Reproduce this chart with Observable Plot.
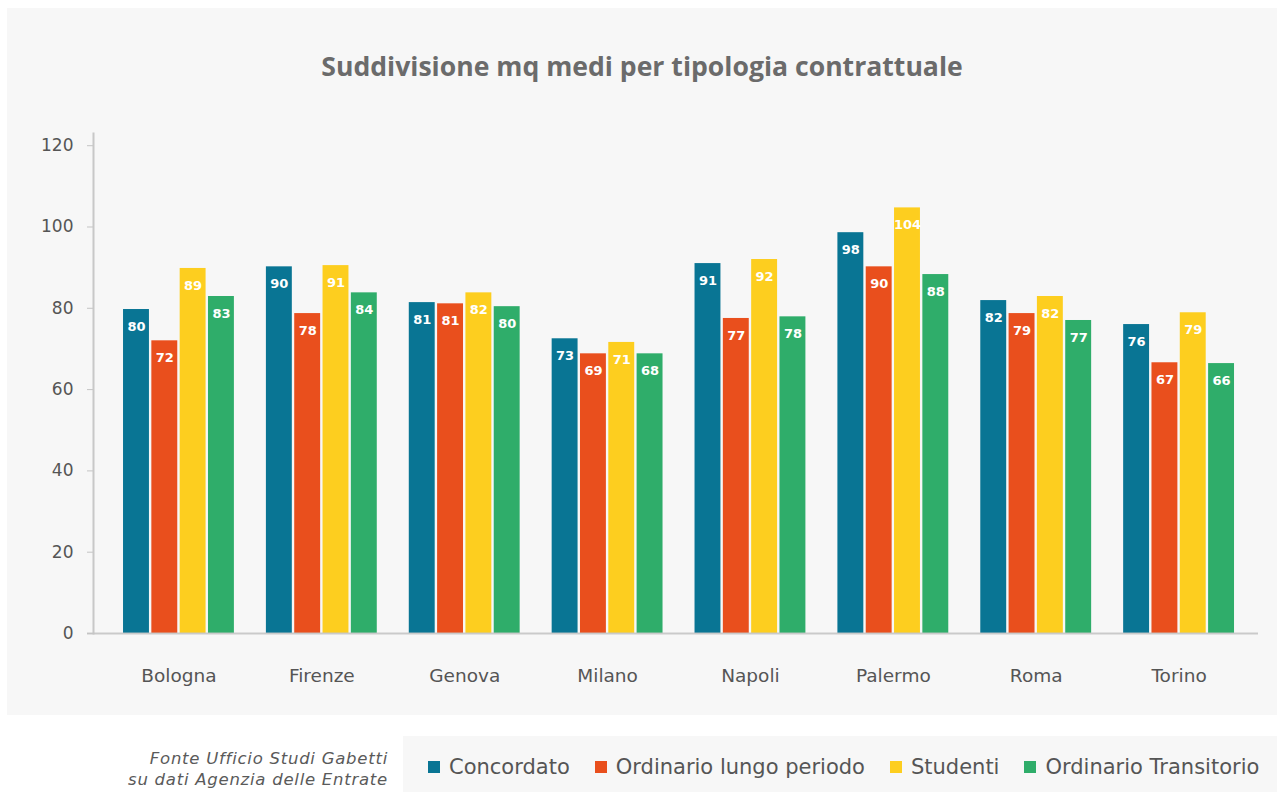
<!DOCTYPE html>
<html>
<head>
<meta charset="utf-8">
<script src="https://cdn.jsdelivr.net/npm/d3@7"></script>
<script src="https://cdn.jsdelivr.net/npm/@observablehq/plot@0.6"></script>
<style>
  html, body { margin: 0; padding: 0; background: #ffffff; width: 1277px; height: 792px; overflow: hidden; }
  body { position: relative; font-family: "DejaVu Sans", "Open Sans", sans-serif; }
  #panel { position: absolute; left: 7px; top: 8px; width: 1270px; height: 707px; background: #f7f7f7; }
  #title { position: absolute; left: 0; top: 42px; width: 1270px; text-align: center; font-family: "Open Sans", sans-serif; font-size: 26.6px; line-height: 32px; font-weight: 700; color: #6b6b6b; }
  #chart { position: absolute; left: 0; top: 92px; }
  #caption { position: absolute; right: calc(1277px - 388px); top: 748px; text-align: right; font-style: italic; font-size: 16.5px; letter-spacing: 0.75px; line-height: 21px; color: #5a5a5a; }
  #legend { position: absolute; left: 403px; top: 736px; width: 874px; height: 56px; background: #f7f7f7; display: flex; align-items: center; padding-top: 5px; box-sizing: border-box; }
  .item { display: flex; align-items: center; margin-left: 25px; font-size: 21px; color: #555; white-space: nowrap; }
  .sw { width: 12px; height: 12px; margin-right: 9px; }
</style>
</head>
<body>
<div id="panel">
  <div id="title"></div>
  <div id="chart"></div>
</div>
<div id="caption"></div>
<div id="legend"></div>
<script>
const titleText = "Suddivisione mq medi per tipologia contrattuale";
const captionLines = ["Fonte Ufficio Studi Gabetti", "su dati Agenzia delle Entrate"];
const cities = ["Bologna", "Firenze", "Genova", "Milano", "Napoli", "Palermo", "Roma", "Torino"];
const seriesNames = ["Concordato", "Ordinario lungo periodo", "Studenti", "Ordinario Transitorio"];
const seriesColors = ["#097594", "#e94f1d", "#fdce1f", "#2fad6a"];
const concordato = [79.7, 90.2, 81.4, 72.5, 91.0, 98.6, 81.9, 76.0];
const ordinarioLungo = [72.0, 78.7, 81.1, 68.8, 77.5, 90.2, 78.7, 66.6];
const studenti = [89.8, 90.5, 83.8, 71.6, 92.0, 104.7, 82.9, 78.9];
const ordinarioTransitorio = [82.9, 83.8, 80.4, 68.8, 77.9, 88.3, 77.0, 66.4];
const concordatoLabels = [80, 90, 81, 73, 91, 98, 82, 76];
const ordinarioLungoLabels = [72, 78, 81, 69, 77, 90, 79, 67];
const studentiLabels = [89, 91, 82, 71, 92, 104, 82, 79];
const ordinarioTransitorioLabels = [83, 84, 80, 68, 78, 88, 77, 66];
const yTicks = [0, 20, 40, 60, 80, 100, 120];

const seriesValues = [concordato, ordinarioLungo, studenti, ordinarioTransitorio];
const seriesLabels = [concordatoLabels, ordinarioLungoLabels, studentiLabels, ordinarioTransitorioLabels];

const W = 1270, H = 610, mL = 86, mR = 19, mT = 33, mB = 77;
const pInner = 0.224, pOuter = 0.189, align = 0.556;
const band = d3.scaleBand().domain(cities).range([mL, W - mR]).paddingInner(pInner).paddingOuter(pOuter).align(align);
const B = band.bandwidth();
const gap = 2.4;
const bw = (B - 3 * gap) / 4;

const rows = [];
seriesNames.forEach((s, i) => cities.forEach((c, j) => rows.push({city: c, series: s, value: seriesValues[i][j], label: seriesLabels[i][j]})));

document.getElementById("title").textContent = titleText;
document.getElementById("caption").innerHTML = captionLines.map(l => `<div>${l}</div>`).join("");

const marks = [];
seriesNames.forEach((s, i) => {
  const data = rows.filter(r => r.series === s);
  const off = i * (bw + gap);
  marks.push(Plot.barY(data, {x: "city", y: "value", fill: "series", insetLeft: off, insetRight: B - off - bw}));
  marks.push(Plot.text(data, {x: "city", y: "value", text: d => String(d.label), dx: off + bw / 2 - B / 2, dy: 17, fill: "white", fontWeight: "bold", fontSize: 13}));
});

const plot = Plot.plot({
  width: W, height: H, marginLeft: mL, marginRight: mR, marginTop: mT, marginBottom: mB,
  style: {background: "transparent", fontFamily: "'DejaVu Sans', 'Open Sans', sans-serif", fontSize: "17px", color: "#555"},
  x: {domain: cities, paddingInner: pInner, paddingOuter: pOuter, align: align, round: false, label: null, axis: null},
  y: {domain: [0, 123], label: null, axis: null},
  color: {domain: seriesNames, range: seriesColors},
  marks: [
    Plot.axisY({ticks: yTicks, tickSize: 6, tickPadding: 14, stroke: "#c4c4c4", fill: "#555", label: null, fontSize: 17}),
    Plot.axisX({tickSize: 0, tickPadding: 35, fill: "#555", label: null, fontSize: 18.5}),
    Plot.frame({anchor: "left", stroke: "#c8c8c8", strokeWidth: 2}),
    ...marks,
    Plot.ruleY([0], {stroke: "#c4c4c4", strokeWidth: 2, strokeOpacity: 0.9, insetLeft: -6})
  ]
});
document.getElementById("chart").appendChild(plot);

const legend = document.getElementById("legend");
seriesNames.forEach((s, i) => {
  const it = document.createElement("div");
  it.className = "item";
  it.innerHTML = `<span class="sw" style="background:${seriesColors[i]}"></span><span>${s}</span>`;
  legend.appendChild(it);
});
</script>
</body>
</html>
